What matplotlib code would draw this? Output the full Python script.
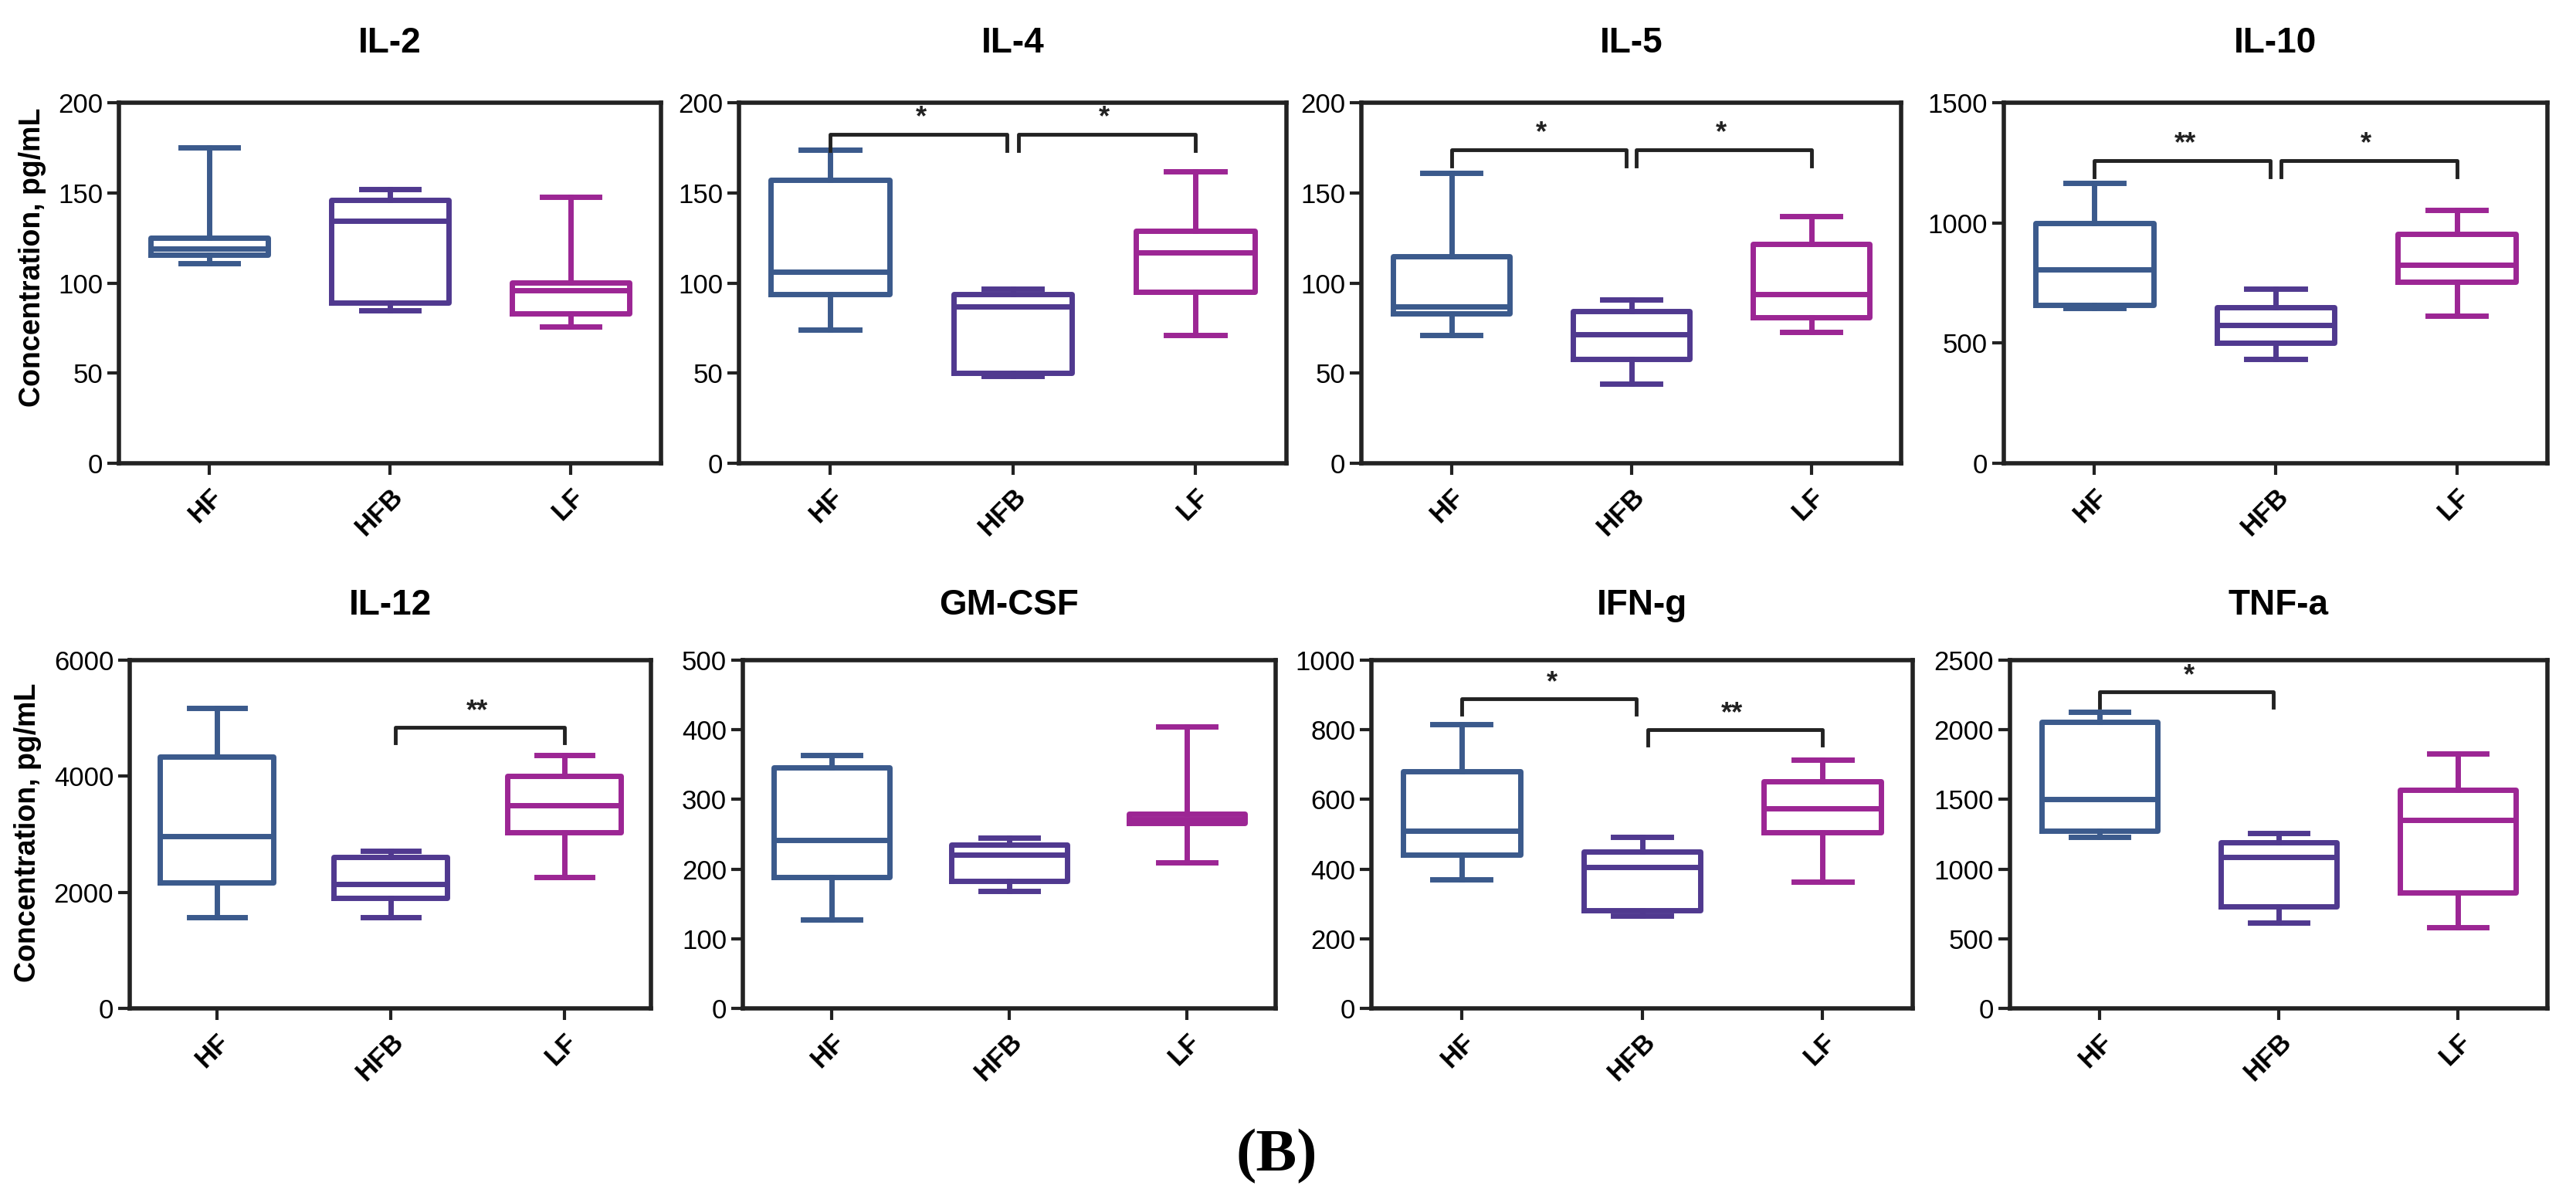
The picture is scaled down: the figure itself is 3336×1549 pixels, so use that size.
import matplotlib
matplotlib.use("Agg")
import matplotlib.pyplot as plt

plt.rcParams['font.family'] = ['Liberation Sans', 'DejaVu Sans']

# Groups and panels
groups = ["HF", "HFB", "LF"]
cytokines = ["IL-2", "IL-4", "IL-5", "IL-10", "IL-12", "GM-CSF", "IFN-g", "TNF-a"]
y_max = [200, 200, 200, 1500, 6000, 500, 1000, 2500]
y_step = [50, 50, 50, 500, 2000, 100, 200, 500]

# Box plot statistics (min-max whiskers), order HF, HFB, LF
whisker_low = [
    [111, 85, 76],
    [74, 48.5, 71],
    [71, 44, 73],
    [647, 433, 613],
    [1574, 1574, 2257],
    [127, 168, 209],
    [371, 267, 363],
    [1228, 615, 583],
]
q1 = [
    [115.5, 89, 83],
    [93.7, 50.3, 95],
    [83, 58, 81],
    [660, 500, 756],
    [2168, 1901, 3030],
    [188, 183, 266],
    [441, 282, 505],
    [1277, 732, 831],
]
median = [
    [119, 134.6, 96],
    [106, 86.8, 117],
    [87, 71.5, 94],
    [807, 576, 827],
    [2970, 2139, 3505],
    [242, 221, 272],
    [510, 406, 574],
    [1500, 1084, 1352],
]
q3 = [
    [125, 146, 100.4],
    [157, 94, 129],
    [114.7, 84.4, 121.8],
    [1000, 649, 953],
    [4337, 2614, 4010],
    [346, 235, 279],
    [681, 450, 651],
    [2058, 1190, 1567],
]
whisker_high = [
    [175, 152, 147.6],
    [174, 97, 162],
    [161, 90.7, 137],
    [1167, 727, 1053],
    [5180, 2720, 4366],
    [364, 245, 405],
    [817, 493, 715],
    [2128, 1260, 1830],
]

# Significance brackets: (group a, group b, height, label)
significance = [
    [],
    [(0, 1, 182.6, "*"), (1, 2, 182.6, "*")],
    [(0, 1, 174, "*"), (1, 2, 174, "*")],
    [(0, 1, 1260, "**"), (1, 2, 1260, "*")],
    [(1, 2, 4842, "**")],
    [],
    [(0, 1, 889, "*"), (1, 2, 800, "**")],
    [(0, 1, 2274, "*")],
]

colors = ["#3b5a8c", "#50398f", "#9c2694"]
dark = "#222222"

W, H = 3336, 1549
fig = plt.figure(figsize=(W / 100, H / 100), dpi=100)

# axes boxes in pixels: left, top, right, bottom
boxes = [
    (154, 133, 856, 600), (957, 133, 1666, 600),
    (1763, 133, 2462, 600), (2595, 133, 3299, 600),
    (168, 855, 843, 1306), (962, 855, 1652, 1306),
    (1776, 855, 2477, 1306), (2603, 855, 3299, 1306),
]
title_y = [56, 56, 56, 56, 784, 784, 784, 784]

for k, name in enumerate(cytokines):
    l, t, r, b = boxes[k]
    ax = fig.add_axes([l / W, 1 - b / H, (r - l) / W, (b - t) / H])

    stats = []
    for g in range(3):
        stats.append(dict(whislo=whisker_low[k][g], q1=q1[k][g], med=median[k][g],
                          q3=q3[k][g], whishi=whisker_high[k][g], label=groups[g]))
    bp = ax.bxp(stats, positions=[0, 1, 2], widths=0.65, capwidths=0.32,
                showfliers=False)
    for g in range(3):
        c = colors[g]
        bp['boxes'][g].set(color=c, linewidth=5)
        bp['medians'][g].set(color=c, linewidth=5)
        for w in bp['whiskers'][2 * g:2 * g + 2]:
            w.set(color=c, linewidth=5)
        for cap in bp['caps'][2 * g:2 * g + 2]:
            cap.set(color=c, linewidth=5)

    ymax = y_max[k]
    ax.set_ylim(0, ymax)
    ax.set_xlim(-0.5, 2.5)
    ax.set_yticks(range(0, ymax + 1, y_step[k]))
    ax.set_xticks([0, 1, 2])
    ax.set_xticklabels(groups, rotation=45, ha='right', rotation_mode='anchor',
                       fontsize=26, fontweight='bold')
    ax.tick_params(axis='both', direction='out', length=11, width=3, color=dark,
                   labelsize=25)
    ax.tick_params(axis='y', pad=4)
    ax.tick_params(axis='x', pad=8)
    for s in ax.spines.values():
        s.set_linewidth(4)
        s.set_color(dark)

    # significance brackets
    leg = 0.045 * ymax
    for a, bb, yv, lab in significance[k]:
        x1, x2 = a + 0.03, bb - 0.03
        if a == 0:
            x1 = a
        if bb == 2:
            x2 = bb
        ax.plot([x1, x1, x2, x2], [yv - leg, yv, yv, yv - leg], color=dark,
                linewidth=3.5, clip_on=False)
        ax.text((a + bb) / 2, yv + 0.045 * ymax, lab, ha='center', va='center',
                fontsize=26, fontweight='bold', color=dark)

    fig.text((l + r) / 2 / W, 1 - title_y[k] / H, name, ha='center', va='center',
             fontsize=33, fontweight='bold')

    if k == 0:
        ax.set_ylabel("Concentration, pg/mL", fontsize=27, fontweight='bold')
        ax.yaxis.set_label_coords(-0.134, 0.57)
    if k == 4:
        ax.set_ylabel("Concentration, pg/mL", fontsize=27, fontweight='bold')
        ax.yaxis.set_label_coords(-0.169, 0.505)

fig.text(1653 / W, 1 - 1498 / H, "(B)", ha='center', va='center', fontsize=57,
         fontweight='bold', family='Liberation Serif')

fig.savefig("out.png", dpi=100)
